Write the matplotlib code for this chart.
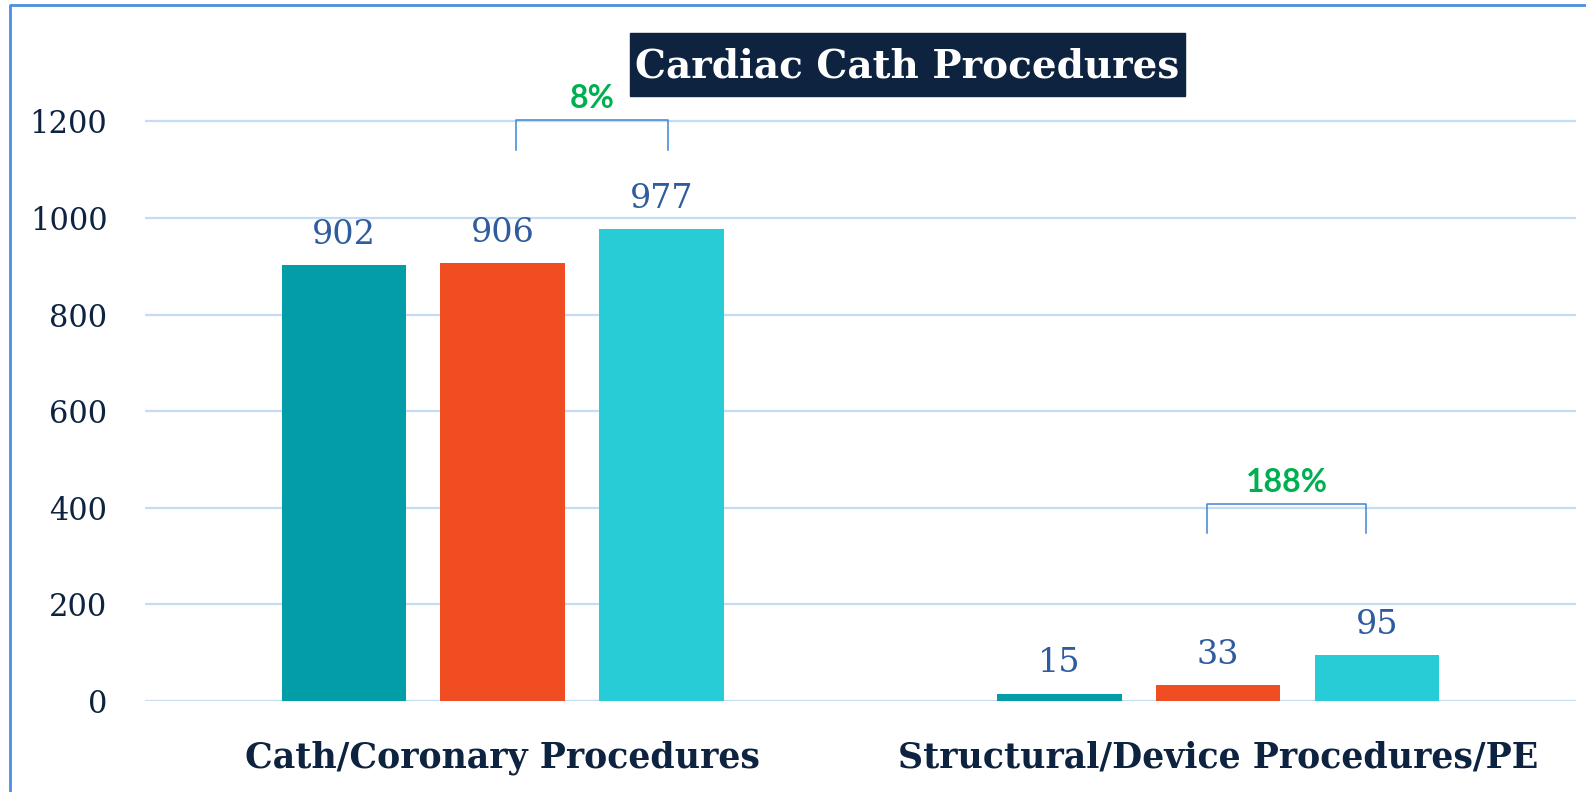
import numpy as np
import matplotlib
matplotlib.use("Agg")
import matplotlib.pyplot as plt
from matplotlib.lines import Line2D
from matplotlib.patches import Rectangle

# procedure counts per category, three periods each
categories = ["Cath/Coronary Procedures", "Structural/Device Procedures/PE"]
period_1 = [902, 15]
period_2 = [906, 33]
period_3 = [977, 95]
growth_labels = ["8%", "188%"]
yticks = [0, 200, 400, 600, 800, 1000, 1200]

colors = ["#039DA8", "#F04D23", "#27CCD7"]
navy = "#0D2340"
value_color = "#2E5C9E"
grid_color = "#C6DCF3"
serif = ["DejaVu Serif"]

fig = plt.figure(figsize=(15.86, 7.92), dpi=100)
ax = fig.add_axes([0.0914, 0.1149, 0.9023, 0.7929])

x = np.arange(len(categories))
width = 0.174
step = 0.222
series = [period_1, period_2, period_3]
for i, vals in enumerate(series):
    pos = x + (i - 1) * step
    bars = ax.bar(pos, vals, width, color=colors[i], zorder=3)
    for b, v in zip(bars, vals):
        ax.text(b.get_x() + b.get_width() / 2, v + 30, str(v), ha="center", va="bottom",
                fontsize=24, color=value_color, family=serif)

ax.set_xlim(-0.5, 1.5)
ax.set_ylim(0, 1300)
ax.set_yticks(yticks)
ax.set_yticklabels([str(t) for t in yticks], family=serif, fontsize=22, color=navy)
ax.tick_params(axis="y", length=0, pad=27)
ax.set_xticks([])
for s in ax.spines.values():
    s.set_visible(False)
for t in yticks:
    ax.axhline(t, color=grid_color, lw=1.6, zorder=1)

for xc, name in zip(x, categories):
    ax.text(xc, -117, name, ha="center", va="center", fontsize=25, fontweight="bold",
            color=navy, family=serif)

# growth brackets between the last two periods
brackets = [(0.019, 0.231, 1141, 1203), (0.984, 1.207, 348, 408)]
for (x0, x1, y0, y1), lab in zip(brackets, growth_labels):
    ax.plot([x0, x0, x1, x1], [y0, y1, y1, y0], color="#3D86D9", lw=1.1,
            zorder=4, clip_on=False, solid_joinstyle="round")
    ax.text((x0 + x1) / 2, y1 + 14, lab, ha="center", va="bottom", fontsize=23,
            fontweight="bold", color="#00B050", family=["Lato", "DejaVu Sans"])

# title on a dark box
fig.patches.append(Rectangle((630 / 1586, 1 - 96 / 792), 555 / 1586, 63 / 792,
                             transform=fig.transFigure, color=navy, zorder=0))
fig.text(907 / 1586, 1 - 66 / 792, "Cardiac Cath Procedures", ha="center", va="center",
         fontsize=28, fontweight="bold", color="white", family=serif)

# outline along the top and left edges
fig.lines.append(Line2D([10 / 1586, 10 / 1586, 1.0], [0.0, 1 - 5 / 792, 1 - 5 / 792],
                        transform=fig.transFigure, color="#4A8FE0", lw=2))

fig.savefig("out.png", dpi=100)
